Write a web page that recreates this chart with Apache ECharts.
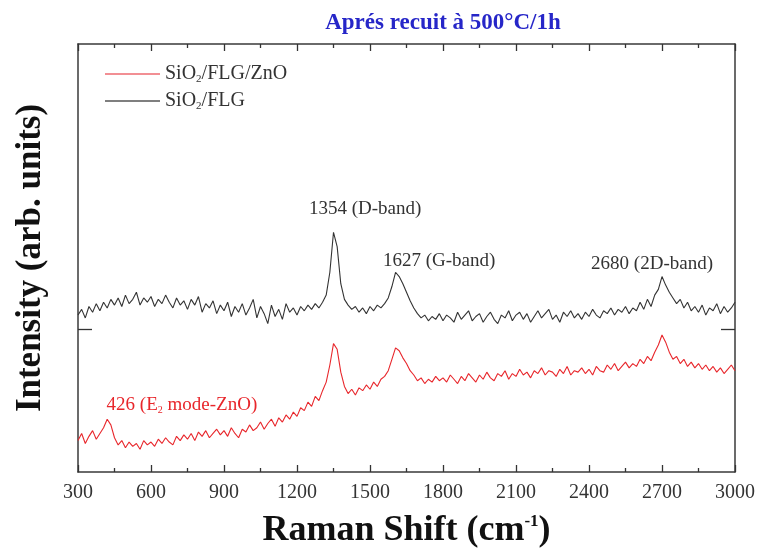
<!DOCTYPE html>
<html>
<head>
<meta charset="utf-8">
<script src="https://cdn.jsdelivr.net/npm/echarts@6/dist/echarts.min.js"></script>
<style>
  html, body { margin: 0; padding: 0; background: #fff; }
  #chart { width: 763px; height: 552px; }
</style>
</head>
<body>
<div id="chart"></div>
<script>
// Raman shift grid (cm-1)
var shifts = [
  300, 315, 330, 345, 360, 375, 390, 405, 420, 435,
  450, 465, 480, 495, 510, 525, 540, 555, 570, 585,
  600, 615, 630, 645, 660, 675, 690, 705, 720, 735,
  750, 765, 780, 795, 810, 825, 840, 855, 870, 885,
  900, 915, 930, 945, 960, 975, 990, 1005, 1020, 1035,
  1050, 1065, 1080, 1095, 1110, 1125, 1140, 1155, 1170, 1185,
  1200, 1215, 1230, 1245, 1260, 1275, 1290, 1305, 1320, 1335,
  1350, 1365, 1380, 1395, 1410, 1425, 1440, 1455, 1470, 1485,
  1500, 1515, 1530, 1545, 1560, 1575, 1590, 1605, 1620, 1635,
  1650, 1665, 1680, 1695, 1710, 1725, 1740, 1755, 1770, 1785,
  1800, 1815, 1830, 1845, 1860, 1875, 1890, 1905, 1920, 1935,
  1950, 1965, 1980, 1995, 2010, 2025, 2040, 2055, 2070, 2085,
  2100, 2115, 2130, 2145, 2160, 2175, 2190, 2205, 2220, 2235,
  2250, 2265, 2280, 2295, 2310, 2325, 2340, 2355, 2370, 2385,
  2400, 2415, 2430, 2445, 2460, 2475, 2490, 2505, 2520, 2535,
  2550, 2565, 2580, 2595, 2610, 2625, 2640, 2655, 2670, 2685,
  2700, 2715, 2730, 2745, 2760, 2775, 2790, 2805, 2820, 2835,
  2850, 2865, 2880, 2895, 2910, 2925, 2940, 2955, 2970, 2985, 3000
];

// SiO2/FLG (black, offset upward)
var sioFlg = [
  110, 114, 108, 116, 112, 118, 113, 119, 115, 121,
  117, 122, 116, 124, 118, 121, 126, 117, 122, 119,
  123, 116, 121, 118, 124, 119, 115, 122, 117, 120,
  114, 121, 117, 123, 112, 118, 115, 120, 111, 117,
  113, 119, 109, 116, 112, 118, 110, 115, 121, 108,
  116, 111, 104, 117, 109, 114, 107, 118, 112, 115,
  110, 116, 113, 117, 114, 118, 115, 119, 124, 140,
  168, 158, 132, 121, 117, 114, 116, 112, 115, 111,
  116, 113, 117, 115, 118, 122, 130, 140, 137, 132,
  126, 120, 115, 111, 108, 110, 106, 109, 107, 111,
  106, 110, 108, 105, 112, 107, 110, 113, 106, 109,
  111, 105, 109, 112, 107, 104, 110, 108, 113, 106,
  110, 112, 107, 111, 105, 109, 113, 108, 111, 114,
  107, 110, 105, 112, 109, 113, 108, 111, 107, 112,
  109, 114, 110, 108, 113, 111, 115, 110, 114, 112,
  116, 111, 115, 113, 119, 114, 121, 116, 124, 128,
  137, 131, 126, 122, 118, 121, 115, 119, 113, 116,
  112, 117, 110, 115, 113, 118, 111, 116, 112, 115, 119
];

// SiO2/FLG/ZnO (red)
var sioFlgZno = [
  22, 27, 20, 25, 29, 23, 27, 31, 37, 33,
  24, 19, 22, 17, 21, 18, 20, 16, 22, 19,
  21, 18, 23, 20, 24, 21, 19, 25, 22, 26,
  23, 27, 22, 28, 25, 29, 24, 27, 30, 26,
  29, 25, 31, 27, 24, 30, 28, 33, 29, 31,
  35, 30, 34, 37, 32, 38, 35, 40, 37, 42,
  39, 45, 43, 49, 46, 53, 50, 57, 63, 75,
  90, 86, 70, 60, 55, 58, 54, 59, 57, 61,
  58, 63, 60, 65, 67, 71, 79, 87, 85, 80,
  76, 71, 68, 64, 66, 62, 65, 63, 67, 64,
  66, 63, 68, 65, 62, 67, 64, 69, 66, 63,
  68, 65, 70, 66, 64, 69, 67, 71, 65, 69,
  67, 72, 68, 70, 66, 71, 69, 73, 68, 71,
  70, 67, 72, 69, 74, 68, 71, 70, 73, 69,
  72, 68, 74, 71, 70, 75, 72, 76, 71, 74,
  77, 73, 76, 74, 79, 76, 81, 78, 84, 89,
  96, 91, 84, 79, 81, 76, 79, 74, 77, 73,
  76, 72, 75, 71, 74, 70, 73, 69, 72, 75, 71
];

// peak labels: [x, y, text]
var blackPeaks = [
  [1480, 184, '1354 (D-band)'],
  [1784, 148, '1627 (G-band)'],
  [2659, 146, '2680 (2D-band)']
];
var redPeaks = [
  [727, 47, '426 (E{sub|2} mode-ZnO)']
];

var serif = "'Liberation Serif', 'Times New Roman', serif";
var red = '#e8262b';
var black = '#333';

function pairs(ys) {
  return shifts.map(function (x, i) { return [x, ys[i]]; });
}

var chart = echarts.init(document.getElementById('chart'));

var axisLineStyle = { color: '#3a3a3a', width: 1.5 };
var tickStyle = { color: '#333', width: 1.3 };

var option = {
  animation: false,
  title: {
    text: 'Aprés recuit à 500°C/1h',
    left: 438,
    top: 7,
    textAlign: 'center',
    textStyle: { fontFamily: serif, fontWeight: 'bold', fontSize: 23, color: '#2626c8' }
  },
  legend: {
    orient: 'vertical',
    left: 100,
    top: 59,
    itemWidth: 55,
    itemHeight: 1.3,
    itemGap: 6,
    data: [
      { name: 'SiO2/FLG/ZnO', icon: 'rect', itemStyle: { color: '#ee6a70' } },
      { name: 'SiO2/FLG', icon: 'rect', itemStyle: { color: '#555' } }
    ],
    formatter: function (name) {
      return '{t|' + name.replace('SiO2', 'SiO}{sub|2}{t|') + '}';
    },
    textStyle: {
      fontFamily: serif,
      fontSize: 20,
      color: '#333',
      rich: {
        t: { fontFamily: serif, fontSize: 20, color: '#333' },
        sub: { fontFamily: serif, fontSize: 11, color: '#333', padding: [11, 0, 0, 0] }
      }
    }
  },
  grid: { left: 78, right: 28, top: 44, bottom: 80, outerBoundsMode: 'none' },
  xAxis: [{
    type: 'value',
    min: 300,
    max: 3000,
    interval: 300,
    name: '{t|Raman Shift (cm}{sup|-1}{t|)}',
    nameLocation: 'middle',
    nameGap: 41,
    nameTextStyle: {
      rich: {
        t: { fontFamily: serif, fontWeight: 'bold', fontSize: 36, color: '#111' },
        sup: { fontFamily: serif, fontWeight: 'bold', fontSize: 17, color: '#111', padding: [0, 0, 19, 0] }
      }
    },
    axisLine: { onZero: false, lineStyle: axisLineStyle },
    axisTick: { inside: true, length: 7, lineStyle: tickStyle },
    minorTick: { show: true, splitNumber: 2, length: 4, lineStyle: tickStyle },
    axisLabel: {
      fontFamily: serif, fontSize: 20, color: '#333', margin: 11,
      formatter: function (v) { return String(v); }
    },
    splitLine: { show: false }
  }, {
    type: 'value',
    position: 'top',
    min: 300,
    max: 3000,
    interval: 300,
    axisLine: { onZero: false, lineStyle: axisLineStyle },
    axisTick: { inside: true, length: 7, lineStyle: tickStyle },
    minorTick: { show: true, splitNumber: 2, length: 4, lineStyle: tickStyle },
    axisLabel: { show: false },
    splitLine: { show: false }
  }],
  yAxis: [{
    type: 'value',
    min: 0,
    max: 300,
    interval: 100,
    name: 'Intensity (arb. units)',
    nameLocation: 'middle',
    nameGap: 30,
    nameTextStyle: { fontFamily: serif, fontWeight: 'bold', fontSize: 35, color: '#111' },
    axisLine: { show: true, onZero: false, lineStyle: axisLineStyle },
    axisTick: { show: true, inside: true, length: 14, customValues: [100], lineStyle: tickStyle },
    axisLabel: { show: false },
    splitLine: { show: false }
  }, {
    type: 'value',
    position: 'right',
    min: 0,
    max: 300,
    interval: 100,
    axisLine: { show: true, onZero: false, lineStyle: axisLineStyle },
    axisTick: { show: true, inside: true, length: 14, customValues: [100], lineStyle: tickStyle },
    axisLabel: { show: false },
    splitLine: { show: false }
  }],
  series: [{
    name: 'SiO2/FLG/ZnO',
    type: 'line',
    data: pairs(sioFlgZno),
    symbol: 'none',
    lineStyle: { color: red, width: 1.1 },
    itemStyle: { color: red },
    markPoint: {
      symbol: 'circle',
      symbolSize: 0,
      data: redPeaks.map(function (p) {
        return {
          coord: [p[0], p[1]],
          label: {
            show: true,
            position: 'inside',
            formatter: '{t|' + p[2].replace('{sub|2}', '}{sub|2}{t|') + '}',
            rich: {
              t: { fontFamily: serif, fontSize: 19, color: red },
              sub: { fontFamily: serif, fontSize: 10, color: red, padding: [10, 0, 0, 0] }
            }
          }
        };
      })
    }
  }, {
    name: 'SiO2/FLG',
    type: 'line',
    data: pairs(sioFlg),
    symbol: 'none',
    lineStyle: { color: black, width: 1.1 },
    itemStyle: { color: black },
    markPoint: {
      symbol: 'circle',
      symbolSize: 0,
      data: blackPeaks.map(function (p) {
        return {
          coord: [p[0], p[1]],
          label: {
            show: true,
            position: 'inside',
            formatter: p[2],
            fontFamily: serif,
            fontSize: 19,
            color: '#333'
          }
        };
      })
    }
  }]
};

chart.setOption(option);
</script>
</body>
</html>
